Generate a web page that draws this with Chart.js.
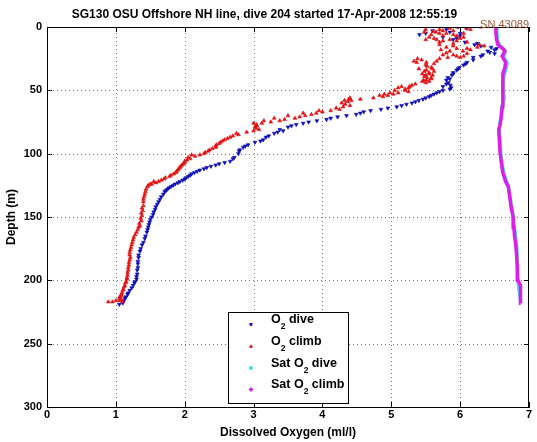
<!DOCTYPE html>
<html>
<head>
<meta charset="utf-8">
<script src="https://cdn.jsdelivr.net/npm/chart.js@4"></script>
<style>
html, body { margin: 0; padding: 0; background: #fff; }
</style>
</head>
<body>
<canvas id="chart" width="537" height="442"></canvas>
<script>
// values
const titleText = 'SG130 OSU Offshore NH line, dive 204 started 17-Apr-2008 12:55:19';
const serialText = 'SN 43089';
const xTicks = [0, 1, 2, 3, 4, 5, 6, 7];
const yTicks = [0, 50, 100, 150, 200, 250, 300];

// O2 on the way down (depth m, ml/l)
const diveDepth = [0, 1, 3, 4, 6, 7, 8, 10, 12, 14, 15, 17, 18, 19, 20, 22, 24, 26, 28, 30,
  32, 34, 36, 38, 40, 42, 44, 46, 48, 50, 51, 53, 55, 57, 59, 61, 63, 64, 65, 66,
  67, 69, 70, 71, 73, 74, 76, 78, 81, 82, 84, 86, 89, 91, 93, 95, 97, 100, 103, 106,
  108, 110, 111, 113, 115, 117, 119, 121, 123, 125, 127, 129, 132, 136, 140, 144, 148, 152, 156, 160,
  165, 170, 175, 180, 185, 190, 195, 199, 202, 206, 210, 213, 216, 218, 219,
  2, 5, 5, 9, 13, 16, 21, 23, 29, 33, 37, 41, 45, 47, 49, 52, 54, 56, 58, 60,
  62, 68, 72, 75, 77, 79, 83, 87, 90, 94, 98, 104, 107, 109, 112, 114, 116, 118, 120, 122,
  124, 126, 128, 130, 134, 138, 142, 146, 150, 154, 158, 162, 167, 172, 177, 182, 187, 192, 197, 201,
  204, 208, 211, 214, 217];
const diveO2 = [5.97, 6.1, 5.6, 5.85, 5.41, 6.0, 5.75, 5.9, 6.07, 6.21, 6.3, 6.53, 6.5, 6.4, 6.43, 6.33, 6.19, 6.19, 6.1, 6.05,
  5.99, 5.95, 5.9, 5.88, 5.82, 5.8, 5.83, 5.86, 5.87, 5.75, 5.7, 5.62, 5.55, 5.46, 5.35, 5.22, 5.08, 4.95, 4.85, 4.7,
  4.6, 4.49, 4.35, 4.22, 4.06, 3.92, 3.72, 3.55, 3.38, 3.43, 3.3, 3.22, 3.14, 3.02, 2.92, 2.85, 2.8, 2.78, 2.72, 2.66,
  2.5, 2.38, 2.32, 2.22, 2.14, 2.08, 2.02, 1.97, 1.9, 1.83, 1.77, 1.73, 1.69, 1.64, 1.6, 1.57, 1.54, 1.5, 1.48, 1.46,
  1.43, 1.4, 1.36, 1.33, 1.32, 1.32, 1.31, 1.3, 1.27, 1.23, 1.18, 1.15, 1.12, 1.1, 1.05,
  5.8, 5.5, 6.0, 5.95, 6.25, 6.45, 6.5, 6.3, 6.08, 5.97, 5.9, 5.85, 5.8, 5.75, 5.85, 5.66, 5.58, 5.5, 5.4, 5.3,
  5.15, 4.55, 4.12, 3.8, 3.62, 3.5, 3.35, 3.18, 3.1, 2.88, 2.79, 2.7, 2.58, 2.45, 2.28, 2.18, 2.1, 2.05, 2.0, 1.93,
  1.86, 1.8, 1.75, 1.71, 1.66, 1.62, 1.58, 1.55, 1.52, 1.49, 1.47, 1.45, 1.42, 1.38, 1.35, 1.33, 1.32, 1.31, 1.3, 1.28,
  1.25, 1.2, 1.17, 1.13, 1.1];

// O2 on the way up
const climbDepth = [217, 217, 216, 216, 215, 213, 211, 208, 205, 202, 199, 196, 192, 188, 184, 180, 176, 172, 168, 164,
  160, 157, 153, 149, 145, 141, 136, 132, 128, 125, 124, 123, 122, 121, 119, 118, 116, 114, 112, 111,
  109, 107, 105, 104, 102, 101, 100, 98, 96, 94, 93, 91, 89, 87, 86, 85, 83, 82, 80, 78,
  77, 76, 75, 74, 73, 72, 71, 70, 69, 68, 67, 66, 65, 63, 61, 59, 58, 57, 56, 55,
  54, 53, 52, 50, 48, 47, 45, 43, 42, 40, 39, 38, 37, 36, 35, 34, 33, 32, 30, 29,
  28, 28, 27, 25, 24, 23, 22, 21, 20.5, 19, 18, 17, 16, 15, 14, 13, 12, 12, 11, 10,
  10, 9, 8, 7, 6, 5, 5, 4, 3.5, 3, 2, 2, 1, 1, 0, 0,
  2, 3, 4, 5, 6, 7, 8, 9, 10, 11, 14, 15, 16, 17, 18, 19, 22, 23, 24, 25,
  26, 27, 31, 33, 35, 37, 38, 40, 41, 42, 43, 44, 46, 47, 48, 49, 50, 51, 52, 53,
  54, 56, 57, 58, 60, 62, 64, 66, 68, 70, 72, 74, 76, 79, 81, 84, 88, 90, 92, 95,
  97, 99, 101, 103, 106, 108, 110, 113, 115, 117, 120, 122, 124, 126, 130, 134, 138, 143, 147, 151,
  155, 158, 162, 166, 170, 174, 178, 182, 186, 190, 194, 198, 201, 204, 207, 210, 212, 214, 217];
const climbO2 = [0.89, 0.95, 1.0, 1.05, 1.08, 1.06, 1.08, 1.1, 1.12, 1.14, 1.16, 1.17, 1.18, 1.19, 1.2, 1.2, 1.21, 1.23, 1.25, 1.28,
  1.32, 1.35, 1.37, 1.38, 1.39, 1.4, 1.4, 1.42, 1.44, 1.47, 1.52, 1.58, 1.62, 1.66, 1.72, 1.78, 1.84, 1.88, 1.91, 1.93,
  1.96, 2.0, 2.03, 2.08, 2.15, 2.22, 2.28, 2.34, 2.4, 2.45, 2.46, 2.52, 2.58, 2.66, 2.7, 2.78, 2.9, 3.0, 3.04, 3.05,
  3.04, 3.12, 3.25, 3.38, 3.45, 3.6, 3.67, 3.75, 3.84, 3.91, 4.0, 4.12, 4.25, 4.3, 4.33, 4.37, 4.42, 4.55, 4.74, 4.88,
  4.95, 5.03, 5.1, 5.2, 5.25, 5.27, 5.35, 5.45, 5.51, 5.58, 5.48, 5.6, 5.45, 5.55, 5.62, 5.51, 5.4, 5.58, 5.5, 5.62,
  5.37, 5.51, 5.66, 5.7, 5.82, 6.05, 5.9, 6.1, 5.8, 6.04, 6.15, 5.95, 6.25, 6.35, 6.28, 5.9, 5.7, 6.1, 5.95, 5.66,
  5.85, 6.0, 5.55, 5.75, 5.9, 5.8, 6.05, 5.65, 5.61, 5.9, 5.7, 6.15, 6.09, 5.85, 6.3, 5.95,
  5.5, 5.75, 5.48, 5.7, 5.58, 5.95, 6.05, 5.62, 5.5, 5.75, 5.7, 5.9, 5.8, 6.1, 5.72, 5.85, 5.75, 5.95, 6.0, 5.38,
  5.44, 5.33, 5.52, 5.6, 5.48, 5.55, 5.5, 5.52, 5.58, 5.47, 5.55, 5.5, 5.3, 5.15, 5.1, 5.2, 5.05, 5.25, 4.98, 4.9,
  4.83, 4.4, 4.38, 4.32, 4.28, 4.4, 4.2, 3.95, 3.72, 3.5, 3.3, 3.15, 3.0, 3.02, 3.08, 2.75, 2.62, 2.55, 2.5, 2.45,
  2.36, 2.3, 2.1, 2.05, 2.0, 1.98, 1.94, 1.9, 1.87, 1.8, 1.7, 1.55, 1.5, 1.46, 1.43, 1.41, 1.4, 1.38, 1.37, 1.36,
  1.34, 1.33, 1.3, 1.26, 1.24, 1.22, 1.2, 1.21, 1.19, 1.18, 1.17, 1.16, 1.15, 1.13, 1.11, 1.09, 1.08, 1.05, 1.1];

// saturation O2, dive and climb
const satDiveDepth = [0, 10, 15, 18, 21, 24, 27, 30, 34, 40, 50, 56, 63, 80, 100, 115, 126, 150, 173, 200, 218];
const satDiveO2 = [6.53, 6.54, 6.58, 6.64, 6.65, 6.63, 6.67, 6.68, 6.66, 6.63, 6.62, 6.64, 6.61, 6.57, 6.59, 6.63, 6.7, 6.77, 6.82, 6.84, 6.88];
const satClimbDepth = [218, 212, 206, 204, 200, 190, 180, 173, 165, 158, 150, 142, 134, 126, 122, 115, 108, 99, 90, 81,
  77, 70, 63, 56, 50, 43, 37, 32, 28, 25, 23, 21, 19, 17, 15, 14, 10, 5, 0];
const satClimbO2 = [6.88, 6.88, 6.88, 6.87, 6.84, 6.83, 6.82, 6.81, 6.79, 6.78, 6.77, 6.74, 6.72, 6.7, 6.66, 6.62, 6.6, 6.58, 6.57, 6.56,
  6.58, 6.6, 6.61, 6.62, 6.62, 6.62, 6.62, 6.65, 6.66, 6.63, 6.61, 6.63, 6.65, 6.62, 6.57, 6.55, 6.53, 6.52, 6.52];

const fontFamily = '"Liberation Sans", Arial, Helvetica, sans-serif';

function toPoints(depths, values) {
    return depths.map((d, i) => ({ x: values[i], y: d }));
}

// matlab style: dotted grid, closed box, inward ticks, legend inside the axes, serial number
const matlabBox = {
    id: 'matlabBox',
    beforeDatasetsDraw(chart) {
        const ctx = chart.ctx;
        const a = chart.chartArea;
        const xs = chart.scales.x;
        const ys = chart.scales.y;
        ctx.save();
        ctx.fillStyle = '#777';
        xTicks.slice(1, -1).forEach(v => {
            const px = Math.round(xs.getPixelForValue(v));
            for (let y = Math.ceil(a.top) + 2; y < a.bottom; y += 4) ctx.fillRect(px, y, 1, 1);
        });
        yTicks.slice(1, -1).forEach(v => {
            const py = Math.round(ys.getPixelForValue(v));
            for (let x = Math.ceil(a.left) + 2; x < a.right; x += 4) ctx.fillRect(x, py, 1, 1);
        });
        ctx.restore();
    },
    afterDatasetsDraw(chart) {
        const ctx = chart.ctx;
        const a = chart.chartArea;
        const xs = chart.scales.x;
        const ys = chart.scales.y;
        ctx.save();
        ctx.strokeStyle = '#000';
        ctx.lineWidth = 1;
        ctx.beginPath();
        ctx.moveTo(a.left, a.top + 0.5);
        ctx.lineTo(a.right, a.top + 0.5);
        ctx.moveTo(a.right - 0.5, a.top);
        ctx.lineTo(a.right - 0.5, a.bottom);
        xTicks.forEach(v => {
            const px = Math.round(xs.getPixelForValue(v)) + 0.5;
            ctx.moveTo(px, a.bottom);
            ctx.lineTo(px, a.bottom - 5);
            ctx.moveTo(px, a.top);
            ctx.lineTo(px, a.top + 5);
        });
        yTicks.forEach(v => {
            const py = Math.round(ys.getPixelForValue(v)) + 0.5;
            ctx.moveTo(a.left, py);
            ctx.lineTo(a.left + 5, py);
            ctx.moveTo(a.right, py);
            ctx.lineTo(a.right - 5, py);
        });
        ctx.stroke();
        ctx.restore();
    },
    afterDraw(chart) {
        const ctx = chart.ctx;
        const a = chart.chartArea;
        ctx.save();

        // legend box
        const box = { x: 228.5, y: 312.5, w: 120, h: 91 };
        ctx.fillStyle = '#fff';
        ctx.fillRect(box.x, box.y, box.w, box.h);
        ctx.strokeStyle = '#000';
        ctx.lineWidth = 1;
        ctx.strokeRect(box.x, box.y, box.w, box.h);

        const rowBase = [323, 345, 366.5, 388];
        chart.data.datasets.forEach((ds, i) => {
            const base = rowBase[i];
            ctx.fillStyle = ds.legendColor;
            ctx.strokeStyle = ds.legendColor;
            Chart.helpers.drawPoint(ctx, {
                pointStyle: ds.pointStyle || 'circle',
                rotation: ds.pointRotation || 0,
                radius: 1.6,
                borderWidth: 0.5
            }, 251, base + 1.5);

            const parts = ds.label.split('\u2082');
            let tx = 271;
            ctx.fillStyle = '#000';
            ctx.textAlign = 'left';
            ctx.textBaseline = 'alphabetic';
            parts.forEach((p, k) => {
                ctx.font = 'bold 12.5px ' + fontFamily;
                ctx.fillText(p, tx, base);
                tx += ctx.measureText(p).width;
                if (k < parts.length - 1) {
                    ctx.font = 'bold 8.5px ' + fontFamily;
                    ctx.fillText('2', tx, base + 6);
                    tx += ctx.measureText('2').width;
                }
            });
        });

        // serial number at the top right
        ctx.font = '11px ' + fontFamily;
        ctx.fillStyle = '#A0522D';
        ctx.textAlign = 'right';
        ctx.textBaseline = 'alphabetic';
        ctx.fillText(serialText, a.right, a.top + 1);
        ctx.restore();
    }
};

const tickFont = { family: fontFamily, size: 11, weight: 'bold' };
const labelFont = { family: fontFamily, size: 12, weight: 'bold' };

const chart = new Chart(document.getElementById('chart').getContext('2d'), {
    type: 'scatter',
    data: {
        datasets: [
            {
                label: 'O\u2082 dive',
                data: toPoints(diveDepth, diveO2),
                pointStyle: 'triangle',
                pointRotation: 180,
                pointRadius: 2.2,
                pointBorderWidth: 0.6,
                backgroundColor: '#0c0cb8',
                borderColor: '#0c0cb8',
                legendColor: '#0c0cb8',
                order: 4
            },
            {
                label: 'O\u2082 climb',
                data: toPoints(climbDepth, climbO2),
                pointStyle: 'triangle',
                pointRadius: 2.2,
                pointBorderWidth: 0.6,
                backgroundColor: '#e01414',
                borderColor: '#e01414',
                legendColor: '#e01414',
                order: 3
            },
            {
                label: 'Sat O\u2082 dive',
                data: toPoints(satDiveDepth, satDiveO2),
                showLine: true,
                pointRadius: 0,
                borderWidth: 3.5,
                borderColor: '#40e0f0',
                legendColor: '#40e0f0',
                order: 2
            },
            {
                label: 'Sat O\u2082 climb',
                data: toPoints(satClimbDepth, satClimbO2),
                showLine: true,
                pointRadius: 0,
                borderWidth: 3.5,
                borderColor: '#dd1ee6',
                legendColor: '#dd1ee6',
                order: 1
            }
        ]
    },
    options: {
        responsive: false,
        animation: false,
        devicePixelRatio: 1,
        layout: { padding: { left: 0, right: 8, top: 0, bottom: 0 } },
        plugins: {
            legend: { display: false },
            tooltip: { enabled: false },
            title: {
                display: true,
                text: titleText,
                color: '#000',
                font: labelFont,
                padding: { top: 7, bottom: 5.6 }
            }
        },
        scales: {
            x: {
                type: 'linear',
                position: 'bottom',
                min: 0,
                max: 7,
                afterBuildTicks: s => { s.ticks = xTicks.map(v => ({ value: v })); },
                afterFit: s => { s.height = 35; },
                ticks: { color: '#000', font: tickFont, padding: 1, maxRotation: 0 },
                grid: { display: false, drawTicks: false },
                border: { display: true, color: '#000', width: 1 },
                title: { display: true, text: 'Dissolved Oxygen (ml/l)', color: '#000', font: labelFont, padding: { top: 0, bottom: 2 } }
            },
            y: {
                type: 'linear',
                reverse: true,
                min: 0,
                max: 300,
                afterBuildTicks: s => { s.ticks = yTicks.map(v => ({ value: v })); },
                afterFit: s => { s.width = 47; },
                ticks: { color: '#000', font: tickFont, padding: 5 },
                grid: { display: false, drawTicks: false },
                border: { display: true, color: '#000', width: 1 },
                title: { display: true, text: 'Depth (m)', color: '#000', font: labelFont, padding: { top: 4, bottom: 0 } }
            }
        }
    },
    plugins: [matlabBox]
});
</script>
</body>
</html>
